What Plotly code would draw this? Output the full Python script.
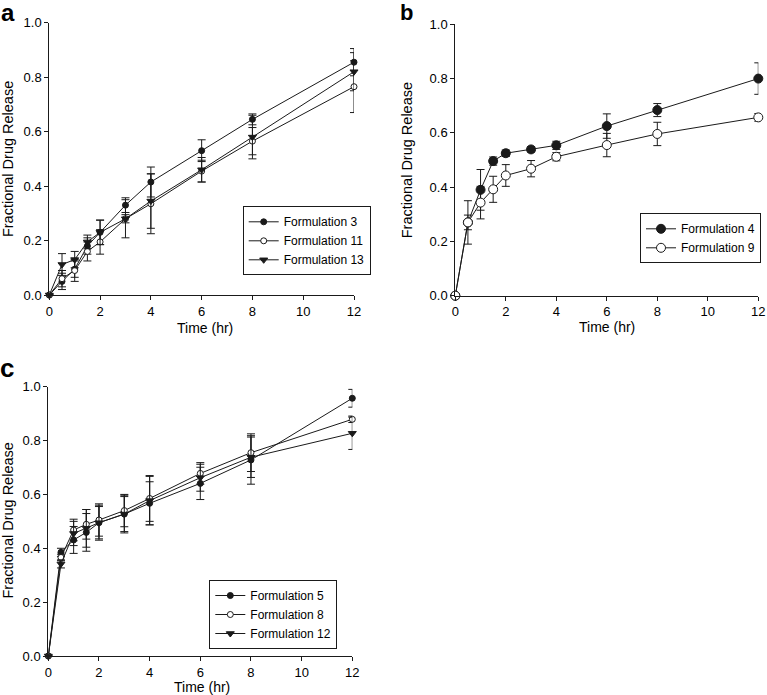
import plotly.graph_objects as go

W, H = 767, 695

TIME = [0, 0.5, 1, 1.5, 2, 3, 4, 6, 8, 12]

# Panel a
F3 = [0, 0.05, 0.095, 0.18, 0.23, 0.33, 0.415, 0.53, 0.645, 0.855]
F3_ERR = [0, 0.03, 0.03, 0.03, 0.045, 0.027, 0.055, 0.04, 0.02, 0.05]
F11 = [0, 0.06, 0.09, 0.16, 0.195, 0.28, 0.335, 0.455, 0.565, 0.765]
F11_ERR = [0, 0.03, 0.04, 0.035, 0.045, 0.07, 0.11, 0.04, 0.05, 0.095]
F13 = [0, 0.112, 0.13, 0.195, 0.23, 0.28, 0.345, 0.46, 0.58, 0.82]
F13_ERR = [0, 0.04, 0.03, 0.025, 0.045, 0.015, 0.1, 0.045, 0.08, 0.07]

# Panel b
F4 = [0, 0.27, 0.39, 0.496, 0.525, 0.539, 0.554, 0.625, 0.684, 0.80]
F4_ERR = [0, 0.08, 0.075, 0.015, 0.012, 0.01, 0.015, 0.045, 0.024, 0.058]
F9 = [0, 0.27, 0.343, 0.392, 0.443, 0.468, 0.512, 0.555, 0.596, 0.657]
F9_ERR = [0, 0.027, 0.06, 0.048, 0.04, 0.03, 0.015, 0.043, 0.043, 0.014]

# Panel c
F5 = [0, 0.385, 0.431, 0.459, 0.495, 0.527, 0.567, 0.641, 0.728, 0.957]
F5_ERR = [0, 0.015, 0.05, 0.07, 0.06, 0.07, 0.08, 0.06, 0.09, 0.033]
F8 = [0, 0.366, 0.468, 0.489, 0.505, 0.54, 0.585, 0.678, 0.755, 0.879]
F8_ERR = [0, 0.012, 0.04, 0.055, 0.06, 0.06, 0.085, 0.04, 0.07, 0.012]
F12 = [0, 0.342, 0.455, 0.474, 0.495, 0.527, 0.577, 0.662, 0.738, 0.827]
F12_ERR = [0, 0.015, 0.045, 0.07, 0.065, 0.065, 0.09, 0.05, 0.075, 0.06]

Y_TICKS = [0, 0.2, 0.4, 0.6, 0.8, 1.0]
X_TICKS = [0, 2, 4, 6, 8, 10, 12]

FONT = "Liberation Sans, Arial, sans-serif"
INK = "#1a1a1a"

fig = go.Figure()


def add(name, y, err, xa, ya, leg, symbol, size, fill):
    fig.add_trace(go.Scatter(
        x=TIME, y=y, name=name, mode="lines+markers",
        xaxis=xa, yaxis=ya, legend=leg, cliponaxis=False,
        line=dict(color=INK, width=1),
        marker=dict(symbol=symbol, size=size, color=fill,
                    line=dict(color=INK, width=1)),
        error_y=dict(type="data", array=err, color=INK, thickness=1, width=4),
    ))


add("Formulation 3", F3, F3_ERR, "x", "y", "legend", "circle", 6, INK)
add("Formulation 11", F11, F11_ERR, "x", "y", "legend", "circle", 6, "white")
add("Formulation 13", F13, F13_ERR, "x", "y", "legend", "triangle-down", 7, INK)

add("Formulation 4", F4, F4_ERR, "x2", "y2", "legend2", "circle", 9, INK)
add("Formulation 9", F9, F9_ERR, "x2", "y2", "legend2", "circle", 9, "white")

add("Formulation 5", F5, F5_ERR, "x3", "y3", "legend3", "circle", 6, INK)
add("Formulation 8", F8, F8_ERR, "x3", "y3", "legend3", "circle", 6, "white")
add("Formulation 12", F12, F12_ERR, "x3", "y3", "legend3", "triangle-down", 7, INK)


def px_x(p):
    return p / W


def px_y(p):
    return 1 - p / H


common_x = dict(range=[0, 12], tickvals=X_TICKS, showline=True, linecolor=INK,
                linewidth=1, ticks="outside", ticklen=4, tickwidth=1,
                tickcolor=INK, showgrid=False, zeroline=False, automargin=False,
                tickfont=dict(family=FONT, size=13, color="black"))
common_y = dict(range=[0, 1], tickvals=Y_TICKS, tickformat=".1f", showline=True,
                linecolor=INK, linewidth=1, ticks="outside", ticklen=4,
                tickwidth=1, tickcolor=INK, showgrid=False, zeroline=False,
                automargin=False,
                tickfont=dict(family=FONT, size=13, color="black"))

# pixel boxes of panels: (x0, x1, ytop, ybottom)
PA = (49.3, 354.0, 22.7, 295.0)
PB = (455.3, 758.3, 24.3, 295.7)
PC = (48.3, 352.3, 386.7, 656.0)

fig.update_layout(
    width=W, height=H,
    margin=dict(l=0, r=0, t=0, b=0, autoexpand=False),
    paper_bgcolor="white", plot_bgcolor="white",
    font=dict(family=FONT, color="black"),
    xaxis=dict(domain=[px_x(PA[0]), px_x(PA[1])], anchor="y", **common_x),
    yaxis=dict(domain=[px_y(PA[3]), px_y(PA[2])], anchor="x", **common_y),
    xaxis2=dict(domain=[px_x(PB[0]), px_x(PB[1])], anchor="y2", **common_x),
    yaxis2=dict(domain=[px_y(PB[3]), px_y(PB[2])], anchor="x2", **common_y),
    xaxis3=dict(domain=[px_x(PC[0]), px_x(PC[1])], anchor="y3", **common_x),
    yaxis3=dict(domain=[px_y(PC[3]), px_y(PC[2])], anchor="x3", **common_y),
)

leg_common = dict(yanchor="middle", bgcolor="white",
                  bordercolor=INK, borderwidth=1,
                  font=dict(family=FONT, size=12, color="black"))
fig.update_layout(
    legend=dict(x=px_x(242.7), y=px_y(240.8), xanchor="left", **leg_common),
    legend2=dict(x=px_x(761.0), y=px_y(238.3), xanchor="right", **leg_common),
    legend3=dict(x=px_x(209.3), y=px_y(614.5), xanchor="left", **leg_common),
)

ann = []
# axis titles
for cx, cy in [(204.7, 328.0), (607.3, 326.5), (201.7, 686.7)]:
    ann.append(dict(text="Time (hr)", x=px_x(cx), y=px_y(cy), xref="paper",
                    yref="paper", xanchor="center", yanchor="middle",
                    showarrow=False, font=dict(family=FONT, size=14)))
for cx, cy in [(8.3, 158.8), (407.3, 160.0), (7.5, 521.0)]:
    ann.append(dict(text="Fractional Drug Release", x=px_x(cx), y=px_y(cy),
                    xref="paper", yref="paper", xanchor="center",
                    yanchor="middle", textangle=-90, showarrow=False,
                    font=dict(family=FONT, size=14.5)))
# panel letters
for t, cx, cy, s in [("a", 8.0, 12.0, 24), ("b", 406.5, 12.0, 22), ("c", 6.5, 368.0, 26)]:
    ann.append(dict(text="<b>%s</b>" % t, x=px_x(cx), y=px_y(cy), xref="paper",
                    yref="paper", xanchor="center", yanchor="middle",
                    showarrow=False, font=dict(family=FONT, size=s)))
fig.update_layout(annotations=ann)

fig.write_html(
    "out.html",
    config={"displayModeBar": False},
    post_script="document.body.style.margin='0';"
                "document.documentElement.style.overflow='hidden';",
)
